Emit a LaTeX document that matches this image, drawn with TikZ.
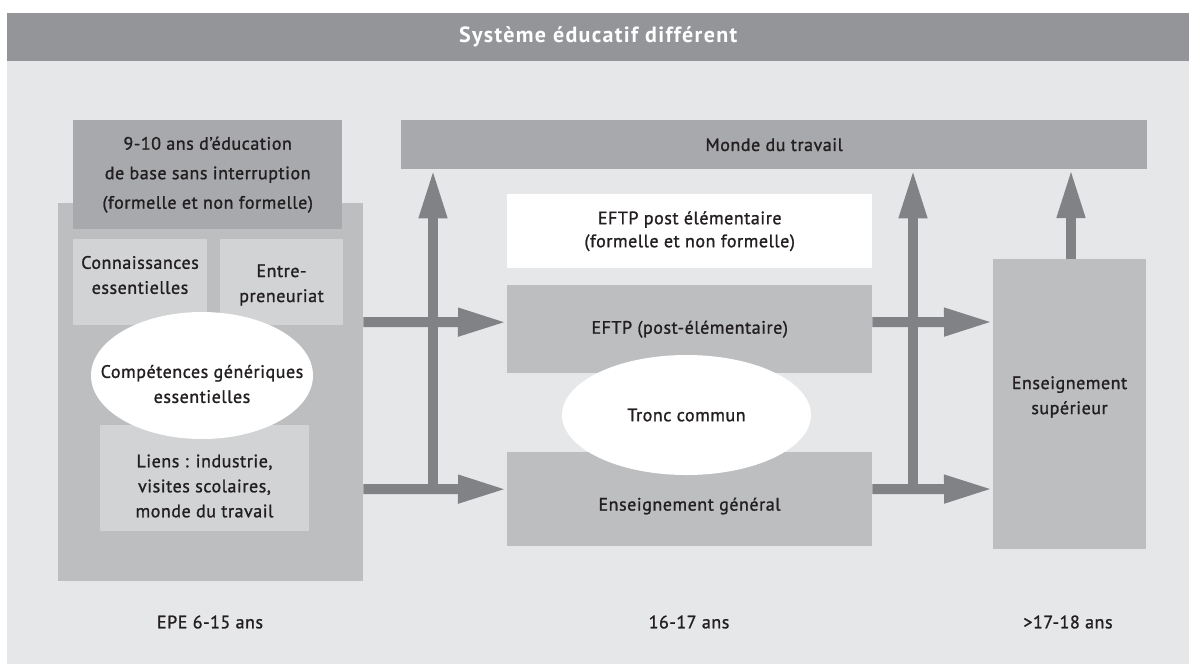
\documentclass[tikz,border=0pt]{standalone}
\usepackage{fontspec}
\setmainfont{PT Sans}[LetterSpace=3,FakeBold=1.2,BoldFeatures={FakeBold=0,LetterSpace=6}]
\usetikzlibrary{arrows.meta,shapes.geometric}
\definecolor{bgc}{HTML}{E6E7E8}
\definecolor{titlec}{HTML}{939598}
\definecolor{darkc}{HTML}{A7A9AC}
\definecolor{midc}{HTML}{BCBEC0}
\definecolor{lightc}{HTML}{D1D3D4}
\definecolor{arrc}{HTML}{808285}
\definecolor{txtc}{HTML}{231F20}
\begin{document}
\begin{tikzpicture}[x=1pt,y=-1pt,
  txt/.style={text=txtc,font=\fontsize{18}{25}\selectfont,align=center},
  box/.style={rectangle,inner sep=0pt,draw=none,txt},
  oval/.style={ellipse,inner sep=0pt,fill=white,draw=none,txt},
  arr/.style={draw=arrc,line width=10pt,-{Triangle[length=49pt,width=26pt]}}
]
\useasboundingbox (0,0) rectangle (1189,664);
\fill[bgc] (7,13) rectangle (1189,664);
\node[box,fill=titlec,minimum width=1182pt,minimum height=48pt,anchor=north west,text=white,font=\fontsize{22}{26}\selectfont\bfseries] (title) at (7,13) {Système éducatif différent};

% left column
\node[box,fill=midc,minimum width=305pt,minimum height=378pt,anchor=north west] (lbox) at (58,203) {};
\node[box,fill=darkc,minimum width=269pt,minimum height=109pt,anchor=north west,font=\fontsize{18}{29.5}\selectfont] (base) at (73,120) {9-10 ans d’éducation\\de base sans interruption\\(formelle et non formelle)};
\node[box,fill=lightc,minimum width=134pt,minimum height=86pt,anchor=north west] (conn) at (73,239) {};
\node[txt] (connt) at (140,275) {Connaissances\\essentielles};
\node[box,fill=lightc,minimum width=123pt,minimum height=86pt,anchor=north west] (entre) at (220,239) {};
\node[txt] (entret) at (281.5,285) {Entre-\\preneuriat};
\node[box,fill=lightc,minimum width=209pt,minimum height=106pt,anchor=north west] (liens) at (100,425) {};
\node[txt] (lienst) at (204.5,486) {Liens : industrie,\\visites scolaires,\\monde du travail};
\node[oval,minimum width=222pt,minimum height=127pt] (comp) at (202,375.5) {};
\node[txt] (compt) at (202,384) {Compétences génériques\\essentielles};

% middle column
\node[box,fill=darkc,minimum width=746pt,minimum height=49pt,anchor=north west] (monde) at (401,120) {Monde du travail};
\node[box,fill=white,minimum width=365pt,minimum height=74pt,anchor=north west,font=\fontsize{18}{23}\selectfont] (eftpw) at (507,194) {EFTP post élémentaire\\(formelle et non formelle)};
\node[box,fill=midc,minimum width=365pt,minimum height=88pt,anchor=north west] (eftp) at (507,285) {EFTP (post-élémentaire)};
\node[box,fill=midc,minimum width=365pt,minimum height=94pt,anchor=north west] (gen) at (507,452) {};
\node[txt] (gent) at (689.5,506) {Enseignement général};
\node[oval,minimum width=249pt,minimum height=120pt] (tronc) at (686.5,415) {Tronc commun};

% right column
\node[box,fill=midc,minimum width=153pt,minimum height=290pt,anchor=north west] (sup) at (993,259) {};
\node[txt] (supt) at (1069.5,397) {Enseignement\\supérieur};

% bottom labels
\node[txt] (age1) at (210,622) {EPE 6-15 ans};
\node[txt] (age2) at (689,622) {16-17 ans};
\node[txt] (age3) at (1068,622) {>17-18 ans};

% arrows
\coordinate (j1) at (433,489);
\coordinate (j2) at (913,489);
\draw[arr] (lbox.east |- 0,322) -- ([yshift=7pt]eftp.west);
\draw[arr] (lbox.east |- j1) -- ([yshift=10pt]gen.west);
\draw[arr] (j1) -- (j1 |- monde.south);
\draw[arr] ([yshift=7pt]eftp.east) -- (sup.west |- 0,322);
\draw[arr] ([yshift=10pt]gen.east) -- (sup.west |- j2);
\draw[arr] (j2) -- (j2 |- monde.south);
\draw[arr] (1071,259) -- (1071,169);
\end{tikzpicture}
\end{document}
